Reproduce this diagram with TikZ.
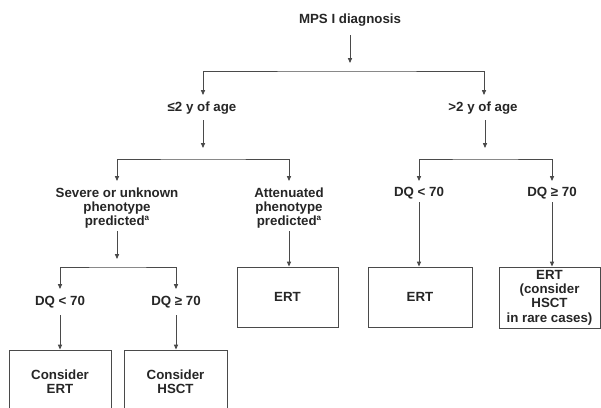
\documentclass[tikz,border=0pt]{standalone}
\usepackage{fontspec}
\setmainfont{Liberation Sans}
\usetikzlibrary{arrows.meta}
\definecolor{txt}{HTML}{262626}
\definecolor{ln}{HTML}{4A4A4A}
\tikzset{
  lbl/.style={font=\fontsize{13.3}{14.3}\selectfont\bfseries, text=txt, align=center, inner sep=0pt},
  box/.style={lbl, draw=ln, line width=0.9pt},
  arr/.style={draw=ln, line width=0.9pt, -{Triangle[length=5pt,width=4.2pt]}},
  arrb/.style={draw=ln, line width=0.9pt, {Triangle[length=5pt,width=4.2pt]}-{Triangle[length=5pt,width=4.2pt]}},
}
\newcommand{\supa}{\raisebox{0.38em}{\fontsize{8}{8}\selectfont\bfseries a}}
\begin{document}
\begin{tikzpicture}[x=1pt,y=-1pt]
\useasboundingbox[fill=white] (0,0) rectangle (601,407);
% text nodes
\node[lbl] (mps) at (350,20) {MPS I diagnosis};
\node[lbl] (age1) at (202,108) {≤2 y of age};
\node[lbl] (age2) at (483,108) {>2 y of age};
\node[lbl] (sev) at (117,208) {Severe or unknown\\phenotype\\predicted\supa};
\node[lbl] (att) at (289,208) {Attenuated\\phenotype\\predicted\supa};
\node[lbl] (dqa) at (419,193) {DQ < 70};
\node[lbl] (dqb) at (552,193) {DQ ≥ 70};
\node[lbl] (dqc) at (60,302) {DQ < 70};
\node[lbl] (dqd) at (176,302) {DQ ≥ 70};
% boxes
\node[box, minimum width=101pt, minimum height=60pt] (b1) at (287.5,297) {ERT};
\node[box, minimum width=104pt, minimum height=60pt] (b2) at (420,297) {ERT};
\node[box, minimum width=101pt, minimum height=61pt] (b3) at (549.5,297.5) {ERT\\(consider\\HSCT\\in rare cases)};
\node[box, minimum width=102pt, minimum height=64pt] (b4) at (60,382) {Consider\\ERT};
\node[box, minimum width=103pt, minimum height=64pt] (b5) at (175.5,382) {Consider\\HSCT};
% coordinates
\coordinate (m1) at (350,35);  \coordinate (m2) at (350,63);
\coordinate (t1) at (203,95);  \coordinate (t2) at (484,95);  \coordinate (h1) at (350,71);
\coordinate (a1s) at (203,120); \coordinate (a1e) at (203,148);
\coordinate (a2s) at (485,120); \coordinate (a2e) at (485,148);
\coordinate (t3) at (117,181); \coordinate (t4) at (289,181); \coordinate (h2) at (203,159);
\coordinate (t5) at (419,181); \coordinate (t6) at (552,181); \coordinate (h3) at (485,159);
\coordinate (s1) at (117,231); \coordinate (s1e) at (117,259);
\coordinate (s2) at (289,231);
\coordinate (d1) at (419,202); \coordinate (d2) at (552,202);
\coordinate (t7) at (60,289); \coordinate (t8) at (176,289); \coordinate (h4) at (117,267);
\coordinate (e1) at (60,315); \coordinate (e2) at (176,315);
% connectors
\draw[arr] (m1) -- (m2);
\draw[arrb] (t1) |- (h1) -| (t2);
\draw[arr] (a1s) -- (a1e);
\draw[arr] (a2s) -- (a2e);
\draw[arrb] (t3) |- (h2) -| (t4);
\draw[arrb] (t5) |- (h3) -| (t6);
\draw[arr] (s1) -- (s1e);
\draw[arr] (s2) -- (s2 |- b1.north);
\draw[arr] (d1) -- (d1 |- b2.north);
\draw[arr] (d2) -- (d2 |- b3.north);
\draw[arrb] (t7) |- (h4) -| (t8);
\draw[arr] (e1) -- (e1 |- b4.north);
\draw[arr] (e2) -- (e2 |- b5.north);
\end{tikzpicture}
\end{document}
